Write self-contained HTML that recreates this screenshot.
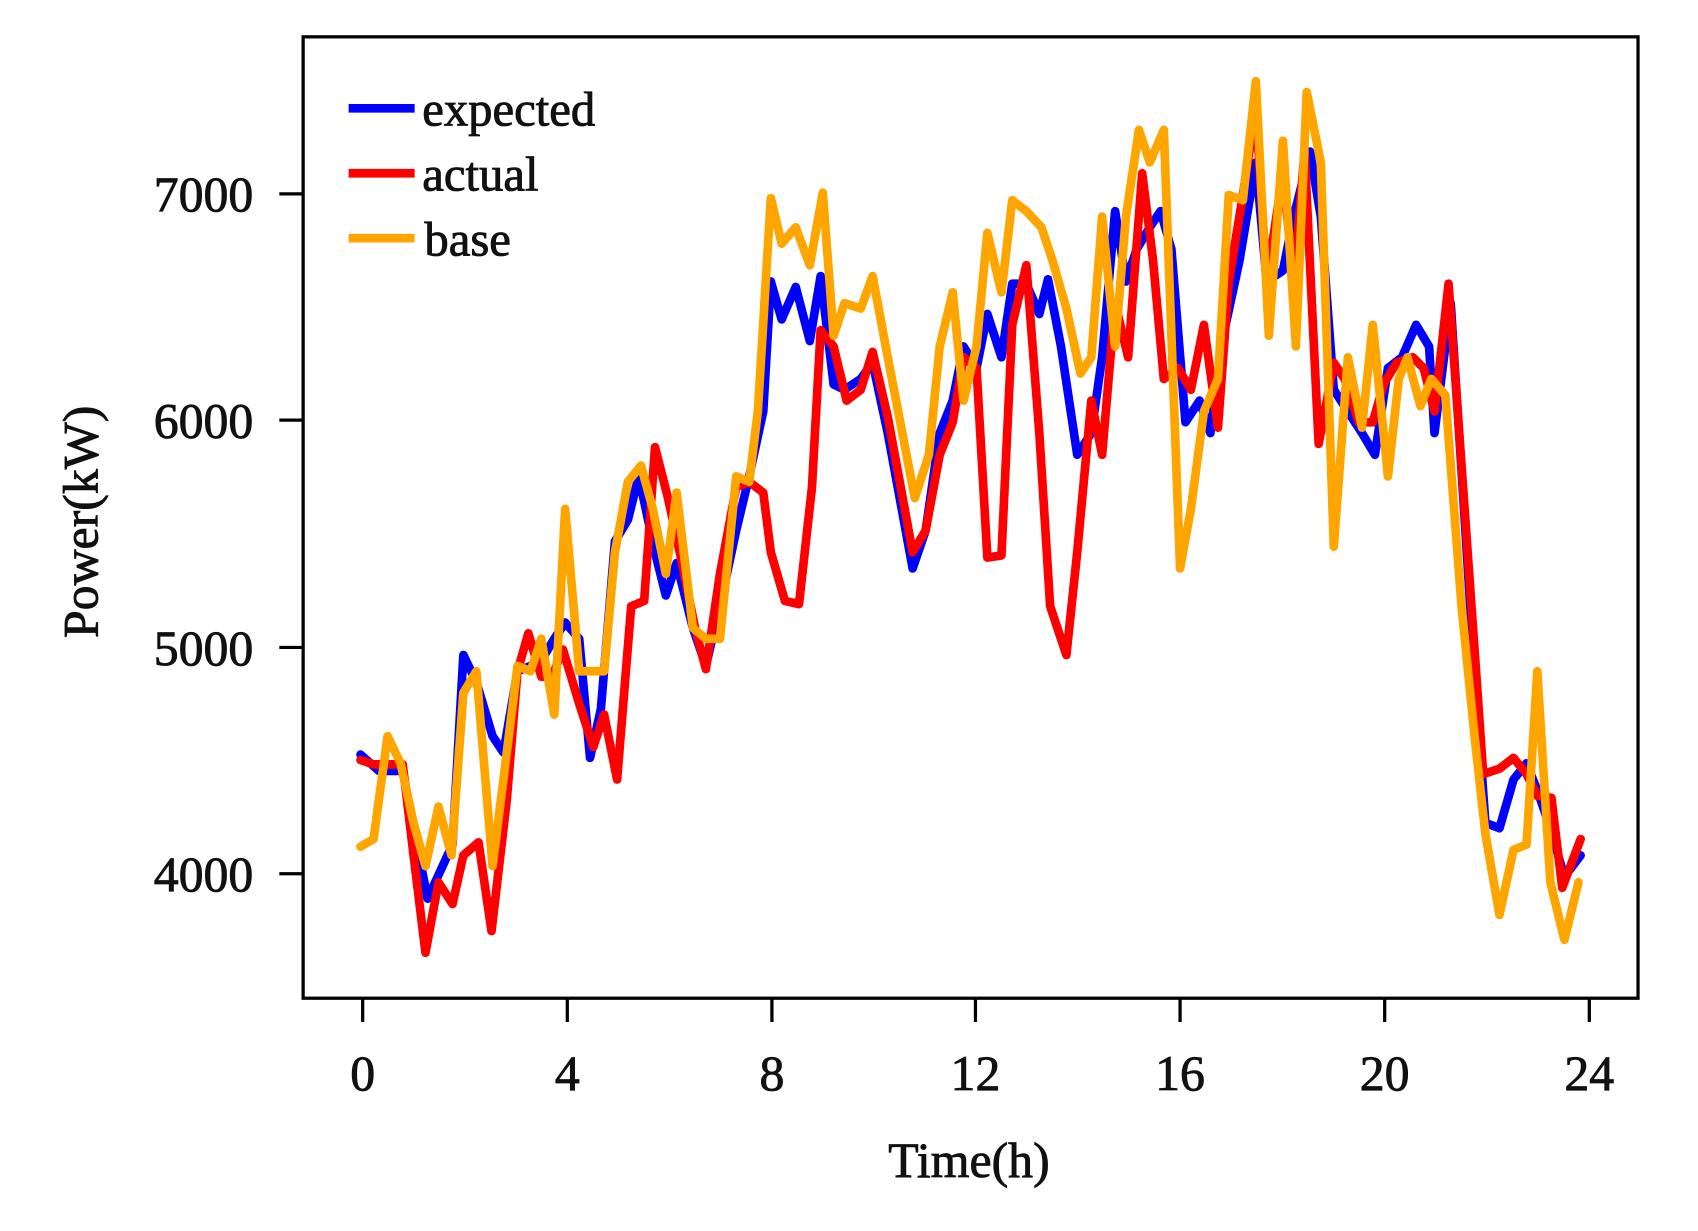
<!DOCTYPE html>
<html><head><meta charset="utf-8"><style>html,body{margin:0;padding:0;background:#fff}svg{display:block}</style></head>
<body>
<svg width="1698" height="1231" viewBox="0 0 1568.4 1137" xmlns="http://www.w3.org/2000/svg" font-family="Liberation Serif, serif">
<rect x="0" y="0" width="1568.4" height="1137" fill="#fff"/>
<g fill="none" stroke-linejoin="round" stroke-linecap="round" stroke-width="8">
<polyline stroke="#0000ff" points="333,697 350,712 372,712 385,780 395,830 418,780 428,605 440,630 455,680 465,695 478,620 490,615 500,610 512,590 522,575 535,590 545,700 555,655 568,500 580,480 590,440 605,510 615,550 625,520 640,580 652,615 665,560 680,490 692,440 705,380 712,260 722,295 735,265 748,315 758,255 770,355 780,360 795,350 806,335 820,400 843,525 855,490 868,400 880,370 890,320 902,340 912,290 925,330 935,262 948,262 960,290 968,258 980,320 995,420 1008,400 1018,330 1030,195 1040,260 1050,230 1062,210 1072,195 1082,230 1095,390 1108,370 1118,400 1130,310 1145,240 1160,150 1170,260 1185,250 1195,200 1210,140 1220,200 1232,360 1245,380 1258,400 1270,420 1282,340 1295,330 1308,300 1320,320 1325,400 1340,280 1360,590 1372,760 1385,765 1398,720 1410,705 1420,730 1432,765 1445,810 1460,790"/>
<polyline stroke="#ff0000" points="333,702 345,706 372,706 382,790 393,880 405,815 418,835 428,790 442,778 454,860 468,740 478,620 488,585 500,625 510,625 520,600 535,650 548,690 558,660 570,720 583,560 595,555 605,413 617,460 630,520 642,580 652,618 665,530 680,450 692,445 705,455 712,510 725,555 738,558 750,450 758,305 770,320 782,370 795,360 806,325 820,385 843,510 855,490 868,420 880,390 890,330 902,340 912,515 925,513 935,300 948,245 960,400 970,560 985,605 995,510 1008,370 1018,420 1030,280 1042,330 1055,160 1065,240 1075,350 1088,340 1100,360 1112,300 1125,395 1135,260 1148,180 1160,100 1170,260 1185,160 1195,260 1205,140 1218,410 1232,335 1242,350 1255,390 1268,390 1278,355 1290,335 1305,330 1315,340 1325,380 1338,262 1350,430 1362,600 1370,715 1385,710 1398,700 1410,715 1420,735 1433,737 1443,820 1460,775"/>
<polyline stroke="#ffa500" points="333,782 345,775 358,680 370,705 382,760 393,800 405,745 417,790 428,640 440,620 455,800 465,720 478,615 490,620 500,590 512,660 522,470 535,620 548,620 558,620 568,510 580,445 592,430 603,470 615,530 625,455 640,580 652,590 665,590 680,440 692,445 700,380 712,183 722,225 735,210 748,245 760,178 770,310 780,280 795,285 806,255 820,330 845,460 858,420 868,320 880,270 890,370 902,320 912,215 925,270 935,185 948,195 962,210 972,240 985,285 998,345 1008,330 1018,200 1030,320 1040,200 1052,120 1062,150 1075,120 1090,525 1100,470 1112,380 1125,350 1135,180 1148,185 1160,75 1172,310 1185,130 1197,320 1207,85 1220,150 1232,505 1245,330 1258,395 1268,300 1282,440 1292,350 1300,330 1312,375 1322,350 1335,365 1350,560 1362,680 1372,770 1385,845 1398,785 1410,780 1420,620 1432,815 1445,868 1458,815"/>
</g>
<rect x="280" y="34" width="1233" height="888" fill="none" stroke="#000" stroke-width="3"/>
<g stroke="#000" stroke-width="3">
<line x1="258" y1="179" x2="280" y2="179"/><line x1="258" y1="388" x2="280" y2="388"/><line x1="258" y1="598" x2="280" y2="598"/><line x1="258" y1="807" x2="280" y2="807"/>
<line x1="335" y1="922" x2="335" y2="944"/><line x1="524" y1="922" x2="524" y2="944"/><line x1="713" y1="922" x2="713" y2="944"/><line x1="901" y1="922" x2="901" y2="944"/><line x1="1090" y1="922" x2="1090" y2="944"/><line x1="1279" y1="922" x2="1279" y2="944"/><line x1="1468" y1="922" x2="1468" y2="944"/>
</g>
<g font-size="46" fill="#111" stroke="#111" stroke-width="0.8" text-anchor="end">
<text x="234" y="195">7000</text><text x="234" y="404">6000</text><text x="234" y="614">5000</text><text x="234" y="823">4000</text>
</g>
<g font-size="46" fill="#111" stroke="#111" stroke-width="0.8" text-anchor="middle">
<text x="335" y="1007">0</text><text x="524" y="1007">4</text><text x="713" y="1007">8</text><text x="901" y="1007">12</text><text x="1090" y="1007">16</text><text x="1279" y="1007">20</text><text x="1468" y="1007">24</text>
<text x="895" y="1087">Time(h)</text>
<text x="0" y="0" transform="translate(90,482) rotate(-90)">Power(kW)</text>
</g>
<g stroke-width="8">
<line x1="322" y1="100" x2="383" y2="100" stroke="#0000ff"/>
<line x1="322" y1="160" x2="383" y2="160" stroke="#ff0000"/>
<line x1="322" y1="220" x2="383" y2="220" stroke="#ffa500"/>
</g>
<g font-size="45" fill="#111" stroke="#111" stroke-width="0.8">
<text x="390" y="116">expected</text><text x="390" y="176">actual</text><text x="392" y="236">base</text>
</g>
</svg>
</body></html>
